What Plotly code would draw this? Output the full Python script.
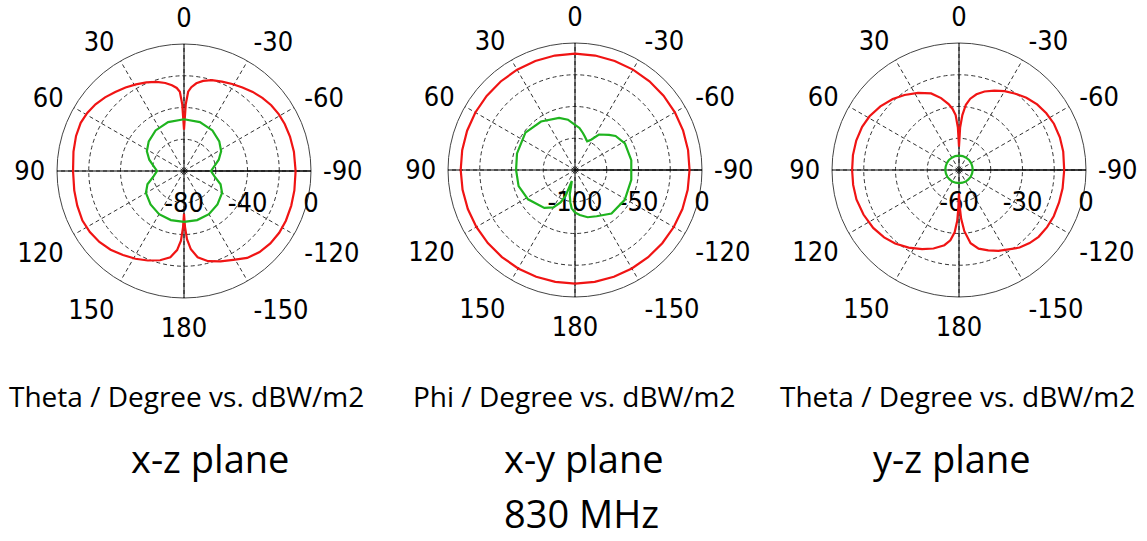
import plotly.graph_objects as go

# ---------------- data ----------------
ANG_TICKS = [0, 30, 60, 90, 120, 150, 180, 210, 240, 270, 300, 330]
ANG_LABELS = ["0", "30", "60", "90", "120", "150", "180", "-150", "-120", "-90", "-60", "-30"]

# x-z plane (Theta), dBW/m2
xz_red_theta = [-180, -179, -177.5, -175, -171, -165, -158, -151, -144, -137, -130, -123, -116,
                -108, -100, -90, -80, -72, -65, -59, -53, -47, -41, -35, -29, -23, -17, -12, -8,
                -5, -3, -1.5, 0,
                1.5, 3, 5, 8, 12, 17, 23, 29, 35, 41, 47, 53, 59, 65, 72, 80, 90, 100, 108, 116,
                123, 130, 137, 144, 151, 158, 165, 171, 175, 177.5, 179, 180]
xz_red_r = [-53, -45, -37, -30.5, -25, -21.2, -18.6, -16, -12.3, -10.2, -9, -8.5, -8.6,
            -9, -9.4, -9.7, -9.7, -9.8, -10, -10.4, -11.2, -12.5, -14, -15.8, -17.3, -18.8, -20.2,
            -22, -24.2, -27, -30, -38, -54,
            -38, -30, -27.5, -25.5, -23.3, -21.3, -19.4, -17.6, -15.8, -14, -12, -10.2, -8.9,
            -8.2, -8.5, -9.3, -10.1, -9.8, -9.3, -8.8, -9.3, -10.4, -12.2, -14.6, -16.8, -19.2,
            -21.8, -25, -30, -36, -44.5, -53]
xz_green_theta = [-180, -165, -150, -135, -120, -110, -100, -90, -82, -72, -62, -50, -35, -18, 0,
                  18, 35, 50, 62, 72, 82, 90, 100, 110, 120, 135, 150, 165, 180]
xz_green_r = [-48, -48, -48.6, -50.2, -52.3, -55.5, -60.5, -63, -61, -57, -53.5, -51, -48.8,
              -47.6, -47.4, -47.6, -48.8, -51, -53.5, -57, -61, -63, -60.5, -55.5, -52.3, -50.2,
              -48.6, -48, -48]

# x-y plane (Phi), dBW/m2
xy_red_theta = [0, 10, 20, 30, 40, 50, 60, 70, 80, 90, 100, 110, 120, 130, 140, 150, 160, 170,
                180, 190, 200, 210, 220, 230, 240, 250, 260, 270, 280, 290, 300, 310, 320, 330,
                340, 350, 360]
xy_red_r = [-8.4, -8.5, -8.6, -8.8, -9.0, -9.2, -9.4, -9.6, -9.8, -10.0, -10.1, -10.2, -10.3,
            -10.4, -10.5, -10.5, -10.6, -10.6, -10.6, -10.6, -10.5, -10.5, -10.4, -10.3, -10.2,
            -10.0, -9.9, -9.8, -9.6, -9.4, -9.2, -9.0, -8.8, -8.7, -8.6, -8.5, -8.4]
xy_green_theta = [-180, -174, -165, -155, -140, -121, -100, -80, -62, -50, -44, -34, -28, -23,
                  -16, -12, -6, 0, 8, 17, 35, 53, 74, 90, 106, 122, 141, 150, 156, 160, 164,
                  168, 172, 175, 180]
xy_green_r = [-66.5, -64.4, -61.5, -59.8, -55.3, -54.3, -55, -55, -55.5, -58.3, -61.5, -66.3,
              -73, -75.5, -72.4, -70.2, -66.7, -64.5, -60, -57.1, -53.4, -51.1, -52.5, -53.6,
              -53.8, -56.4, -61.6, -66, -72, -78, -91, -80, -74, -69.7, -66.5]

# y-z plane (Theta), dBW/m2
yz_red_theta = [-180, -179, -177.5, -175, -171, -166, -160, -154, -148, -142, -136, -130, -123,
                -116, -108, -100, -90, -80, -72, -64, -57, -50, -43, -36, -30, -24, -18, -13,
                -9, -6, -3.5, -1.5, 0,
                1.5, 3.5, 6, 9, 14, 20, 28, 36, 43, 51, 59, 66, 74, 82, 90, 98, 106, 115, 124,
                132, 139, 147, 155, 162, 169, 173, 176, 178, 179, 180]
yz_red_r = [-49, -43, -37, -31, -25, -21.7, -19.6, -17.5, -15.8, -13.5, -12, -10.9, -10.4,
            -10.2, -10.3, -10.3, -10.3, -10, -9.9, -10.1, -10.8, -11.8, -13.3, -15.3, -17, -19,
            -21, -23.3, -25.9, -29, -34, -40, -49,
            -40, -34, -31, -28.5, -25, -21.5, -18.7, -16.2, -14.1, -12.2, -10.7, -9.9, -9.5,
            -9.4, -9.5, -9.5, -9.6, -10.2, -11.1, -12.4, -14, -16.3, -18.8, -21, -23.8, -26.5,
            -30.5, -36, -42, -49]
yz_green_theta = [0, 15, 30, 45, 60, 75, 90, 105, 120, 135, 150, 165, 180, 195, 210, 225, 240,
                  255, 270, 285, 300, 315, 330, 345, 360]
yz_green_r = [-53.2, -53.2, -53.3, -53.3, -53.4, -53.5, -53.5, -53.6, -53.6, -53.7, -53.7,
              -53.8, -53.8, -53.8, -53.7, -53.7, -53.6, -53.6, -53.5, -53.5, -53.4, -53.3,
              -53.3, -53.2, -53.2]

CAPTIONS = ["Theta / Degree vs. dBW/m2", "Phi / Degree vs. dBW/m2", "Theta / Degree vs. dBW/m2"]
PLANES = ["x-z plane", "x-y plane", "y-z plane"]
FREQ = "830 MHz"

RANGES = [[-80, 0], [-100, 0], [-60, 0]]
R_TICKS = [[-80, -60, -40, -20, 0], [-100, -75, -50, -25, 0], [-60, -45, -30, -15, 0]]
R_LABELS = [["-80", "", "-40", "", "0"], ["-100", "", "-50", "", "0"], ["-60", "", "-30", "", "0"]]

RED = "#f01414"
GREEN = "#1fb41f"
TICK_FONT = dict(family="Liberation Sans Narrow, Arial Narrow, DejaVu Sans Condensed", size=27, color="black")

# ---------------- figure ----------------
W, H = 1147, 541
centers = [(184, 171), (575, 170), (959, 170)]
RAD = 127

fig = go.Figure()
series = [
    (xz_red_theta, xz_red_r, xz_green_theta, xz_green_r),
    (xy_red_theta, xy_red_r, xy_green_theta, xy_green_r),
    (yz_red_theta, yz_red_r, yz_green_theta, yz_green_r),
]
for i, (rt, rr, gt, gr) in enumerate(series):
    sp = "polar" if i == 0 else f"polar{i+1}"
    rmax = RANGES[i][1]
    # solid cross lines (axes through the centre)
    for th in ([0, 180], [90, 270]):
        fig.add_trace(go.Scatterpolar(theta=th, r=[rmax, rmax], mode="lines",
                                      line=dict(color="black", width=1), hoverinfo="skip",
                                      showlegend=False, subplot=sp))
    fig.add_trace(go.Scatterpolar(theta=rt, r=rr, mode="lines",
                                  line=dict(color=RED, width=2.2),
                                  showlegend=False, subplot=sp))
    fig.add_trace(go.Scatterpolar(theta=gt, r=gr, mode="lines",
                                  line=dict(color=GREEN, width=2.2),
                                  showlegend=False, subplot=sp))

    cx, cy = centers[i]
    dom = dict(x=[(cx - RAD) / W, (cx + RAD) / W],
               y=[1 - (cy + RAD) / H, 1 - (cy - RAD) / H])
    polar = dict(
        domain=dom,
        bgcolor="white",
        angularaxis=dict(rotation=90, direction="counterclockwise", tickmode="array",
                         tickvals=ANG_TICKS, ticktext=ANG_LABELS, showgrid=True,
                         gridcolor="#333", griddash="4px,3px", gridwidth=1,
                         showline=True, linecolor="#444", linewidth=1,
                         ticks="outside", ticklen=6, tickcolor="rgba(0,0,0,0)",
                         tickfont=TICK_FONT, layer="below traces"),
        radialaxis=dict(range=RANGES[i], tickmode="array", tickvals=R_TICKS[i],
                        ticktext=R_LABELS[i], angle=0, side="clockwise", tickangle=0,
                        showline=True, linecolor="black", linewidth=1, showgrid=True,
                        gridcolor="#333", griddash="4px,3px", gridwidth=1,
                        ticks="outside", ticklen=8, tickcolor="rgba(0,0,0,0)",
                        tickfont=TICK_FONT, layer="below traces"),
    )
    fig.layout[sp] = polar

ann_font_small = dict(family="Open Sans, Noto Sans, sans-serif", size=28, color="black")
ann_font_big = dict(family="Open Sans, Noto Sans, sans-serif", size=38, color="black")
cap_x = [186, 574, 957]
plane_x = [210, 584, 952]
for i in range(3):
    fig.add_annotation(text=CAPTIONS[i], x=cap_x[i] / W, y=1 - 396 / H, xref="paper", yref="paper",
                       showarrow=False, font=ann_font_small, xanchor="center", yanchor="middle")
    fig.add_annotation(text=PLANES[i], x=plane_x[i] / W, y=1 - 458 / H, xref="paper", yref="paper",
                       showarrow=False, font=ann_font_big, xanchor="center", yanchor="middle")
fig.add_annotation(text=FREQ, x=581 / W, y=0, xref="paper", yref="paper",
                   showarrow=False, font=ann_font_big, xanchor="center", yanchor="bottom")

fig.update_layout(width=W, height=H, margin=dict(l=0, r=0, t=0, b=0),
                  paper_bgcolor="white", plot_bgcolor="white", showlegend=False)

fig.write_html("out.html")
